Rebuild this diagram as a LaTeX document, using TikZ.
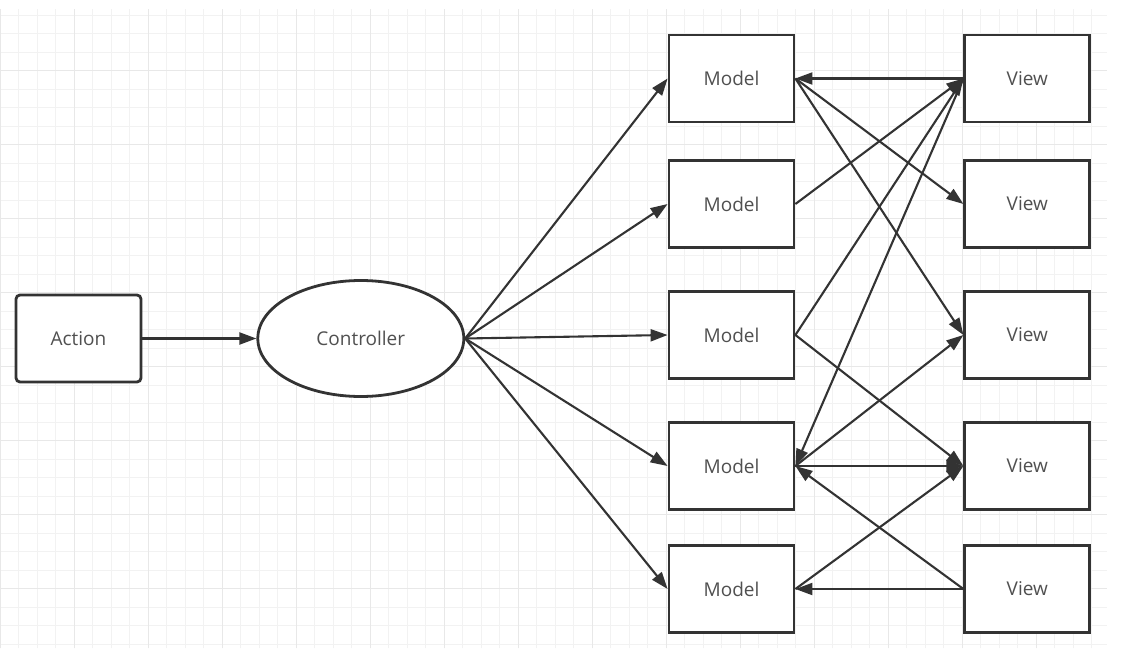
\documentclass[tikz,border=0pt]{standalone}
\usepackage{fontspec}
\setmainfont{Open Sans}
\usetikzlibrary{positioning, arrows.meta, shapes.geometric}
\definecolor{inkgray}{RGB}{51,51,51}
\definecolor{textgray}{RGB}{80,80,80}
\tikzset{
x=1pt, y=-1pt, % one unit is one pixel of the reference, y runs down
every node/.style={font=\fontsize{19}{23}\selectfont, text=textgray}, % label font
box/.style={draw=inkgray, line width=2.8pt, fill=white, minimum width=125pt, minimum height=87pt, inner sep=0pt}, % Model and View boxes
oval/.style={box, ellipse, minimum width=206pt, minimum height=116pt}, % the Controller
link/.style={draw=inkgray, line width=2.1pt, -{Triangle[length=17pt,width=12pt]}}, % directed connectors
}

\begin{document}
\begin{tikzpicture}
    \useasboundingbox[fill=white] (0,0) rectangle (1140,655);
    % background grid
    \begin{scope}[yshift=3.5pt]
        \draw[gray!10, line width=0.8pt, step=18.5pt] (0,12.5) grid (1107,651.5);
        \draw[gray!18, line width=0.9pt, step=74pt] (0,12.5) grid (1107,651.5);
    \end{scope}

    \node[box, rounded corners=4pt] (action) at (78.5,338.5) {Action};
    \node[oval, right=114pt of action] (ctrl) {Controller};

    \node[box] (m1) at (731.5,78.5) {Model};
    \node[box, below=35.7pt of m1] (m2) {Model};
    \node[box, below=41.2pt of m2] (m3) {Model};
    \node[box, below=41.2pt of m3] (m4) {Model};
    \node[box, below=33.2pt of m4] (m5) {Model};

    \node[box, right=168pt of m1] (v1) {View};
    \node[box, right=168pt of m2] (v2) {View};
    \node[box, right=168pt of m3] (v3) {View};
    \node[box, right=168pt of m4] (v4) {View};
    \node[box, right=168pt of m5] (v5) {View};

    \draw[link] (action) -- (ctrl);
    \draw[link] (ctrl.east) -- (m1.west);
    \draw[link] (ctrl.east) -- (m2.west);
    \draw[link] (ctrl.east) -- (m3.west);
    \draw[link] (ctrl.east) -- (m4.west);
    \draw[link] (ctrl.east) -- (m5.west);

    \draw[link] (v1.west) -- (m1.east);
    \draw[link] (m1.east) -- (v2.west);
    \draw[link] (m1.east) -- (v3.west);
    \draw[link] (m2.east) -- (v1.west);
    \draw[link] (m3.east) -- (v1.west);
    \draw[link] (v1.west) -- (m4.east);
    \draw[link] (m3.east) -- (v4.west);
    \draw[link] (m4.east) -- (v3.west);
    \draw[link] (m4.east) -- (v4.west);
    \draw[link] (v5.west) -- (m4.east);
    \draw[link] (m5.east) -- (v4.west);
    \draw[link] (v5.west) -- (m5.east);
\end{tikzpicture}
\end{document}
